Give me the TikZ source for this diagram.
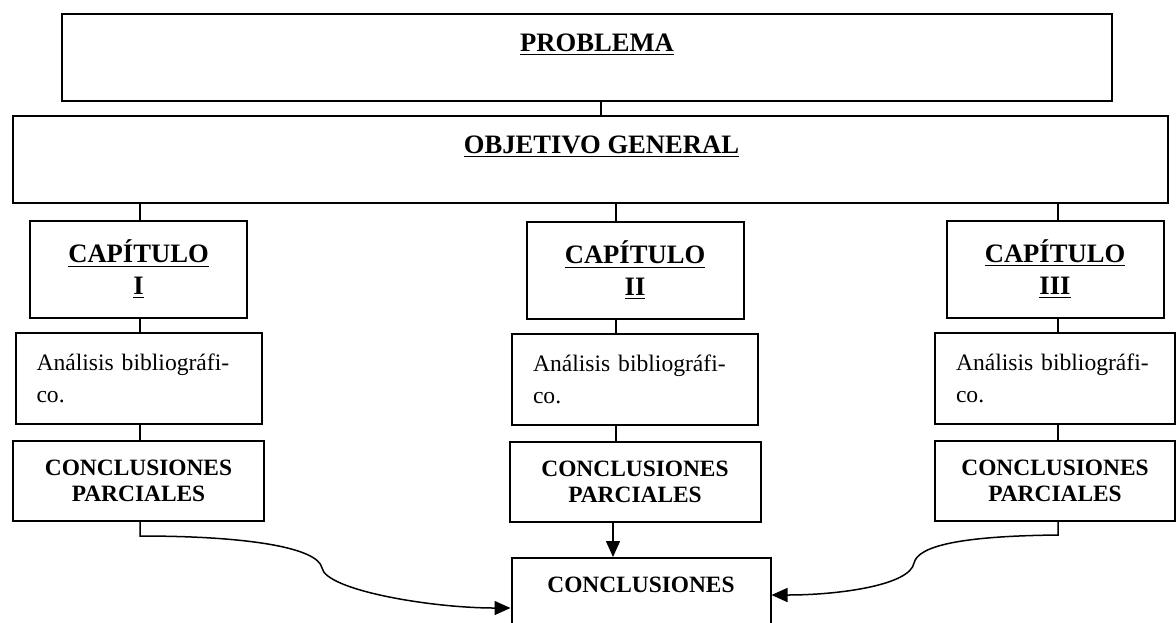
\documentclass[tikz,border=0pt]{standalone}
\usepackage{fontspec}
\setmainfont{Liberation Serif}
\usetikzlibrary{arrows.meta,positioning}
\tikzset{
  titlebox/.style={draw, line width=1pt, align=center, inner sep=0pt, minimum height=43.5pt, font=\fontsize{13.3pt}{15pt}\selectfont\bfseries},
  chapbox/.style={titlebox, minimum width=108.5pt, minimum height=48.5pt, font=\fontsize{13.3pt}{16pt}\selectfont\bfseries},
  notebox/.style={draw, line width=1pt, align=left, inner xsep=10.5pt, inner ysep=0pt, text width=102pt, minimum height=45.5pt, font=\fontsize{11.8pt}{16pt}\selectfont},
  partbox/.style={draw, line width=1pt, align=center, inner sep=0pt, minimum width=125.5pt, minimum height=40pt, font=\fontsize{11.7pt}{13pt}\selectfont\bfseries},
  link/.style={line width=0.75pt},
  arrow/.style={link, -{Triangle[length=8pt, width=7pt]}}
}
\begin{document}
\begin{tikzpicture}[x=0.5pt, y=-0.5pt]
  \useasboundingbox (0,0) rectangle (1176,622);

  \node[titlebox, minimum width=525pt] (prob) at (587,57.5) {\hspace*{10pt}\underline{PROBLEMA}\\ \mbox{}};
  \node[titlebox, minimum width=577.5pt] (obj) at (590.5,159.5) {\hspace*{11pt}\underline{OBJETIVO GENERAL}\\ \mbox{}};

  \node[chapbox] (capI) at (138.5,269.5) {\underline{CAPÍTULO}\\\underline{I}};
  \node[chapbox] (capII) at (635,270.5) {\underline{CAPÍTULO}\\\underline{II}};
  \node[chapbox] (capIII) at (1055,269) {\underline{CAPÍTULO}\\\underline{III}};

  \node[notebox, below=6.5pt of capI] (anaI) {Análisis bibliográfi-\\co.};
  \node[notebox, below=6.5pt of capII] (anaII) {Análisis bibliográfi-\\co.};
  \node[notebox, below=6.5pt of capIII, text width=99pt] (anaIII) {Análisis bibliográfi-\\co.};

  \node[partbox, below=7.5pt of anaI] (cpI) {CONCLUSIONES\\PARCIALES};
  \node[partbox, below=7.5pt of anaII] (cpII) {CONCLUSIONES\\PARCIALES};
  \node[partbox, below=7.5pt of anaIII, minimum width=120pt] (cpIII) {CONCLUSIONES\\PARCIALES};

  \node[partbox, below=17pt of cpII, xshift=3pt, minimum width=129.5pt] (concl) {CONCLUSIONES\\ \mbox{}};

  % column lines
  \coordinate (colTop) at (601,0);
  \coordinate (colI) at (140,0);
  \coordinate (colII) at (616,0);
  \coordinate (colIII) at (1058,0);
  \coordinate (arrII) at (613,0);
  \coordinate (bendI) at (140,536);
  \coordinate (bendIII) at (1058,535);
  \coordinate (tipI) at (0,608);
  \coordinate (tipIII) at (0,595);

  \draw[link] (prob.south -| colTop) -- (obj.north -| colTop);
  \draw[link] (obj.south -| colI) -- (capI.north -| colI);
  \draw[link] (obj.south -| colII) -- (capII.north -| colII);
  \draw[link] (obj.south -| colIII) -- (capIII.north -| colIII);
  \draw[link] (capI.south -| colI) -- (anaI.north -| colI);
  \draw[link] (capII.south -| colII) -- (anaII.north -| colII);
  \draw[link] (capIII.south -| colIII) -- (anaIII.north -| colIII);
  \draw[link] (anaI.south -| colI) -- (cpI.north -| colI);
  \draw[link] (anaII.south -| colII) -- (cpII.north -| colII);
  \draw[link] (anaIII.south -| colIII) -- (cpIII.north -| colIII);

  \draw[arrow] (cpII.south -| arrII) -- (concl.north -| arrII);
  \draw[arrow] (cpI.south -| colI) -- (bendI) .. controls (250,536) and (318,548) .. (322,568)
    .. controls (326,590) and (430,608) .. (concl.west |- tipI);
  \draw[arrow] (cpIII.south -| colIII) -- (bendIII) .. controls (960,536) and (918,546) .. (914,563)
    .. controls (910,585) and (840,595) .. (concl.east |- tipIII);
\end{tikzpicture}
\end{document}
